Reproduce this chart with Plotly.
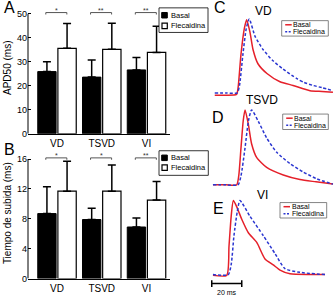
import plotly.graph_objects as go

W, H = 336, 300
FONT = "Liberation Sans, Arial, sans-serif"

# ---------------- data ----------------
categories = ["VD", "TSVD", "VI"]
series_names = ["Basal", "Flecaidina"]

apd50_basal = [25.9, 23.6, 26.6]
apd50_basal_sd = [4.1, 7.1, 5.2]
apd50_flec = [35.6, 35.2, 33.9]
apd50_flec_sd = [10.3, 10.8, 10.9]
apd50_sig = ["*", "**", "**"]

subida_basal = [8.7, 7.9, 6.9]
subida_basal_sd = [3.6, 1.5, 1.2]
subida_flec = [11.7, 11.7, 10.5]
subida_flec_sd = [4.0, 3.5, 2.5]
subida_sig = ["*", "*", "**"]

apd_ticks = [0, 10, 20, 30, 40, 50]
subida_ticks = [0, 4, 8, 12, 16]

# action potential traces (time in ms, normalised amplitude)
tC_basal = [0.5, 8, 15, 16, 18, 20.3, 21.8, 24, 26, 29.3, 35.3, 44, 52.7, 64, 72, 79.3]
vC_basal = [-0.01, -0.01, 0, 0.08, 0.54, 0.89, 1.0, 0.83, 0.6, 0.41, 0.28, 0.17, 0.12, 0.05, 0.04, 0.03]
tC_flec = [0.5, 8, 15.5, 17, 19.3, 21.5, 23.5, 27.3, 32.7, 39.3, 46, 55.3, 60, 66, 72, 79.3]
vC_flec = [0.02, 0.02, 0.02, 0.12, 0.54, 0.88, 1.01, 0.78, 0.6, 0.45, 0.34, 0.21, 0.16, 0.12, 0.09, 0.05]

tD_basal = [-0.7, 8, 15.1, 16.5, 18, 19.5, 20.7, 22.9, 25.1, 28.5, 35.1, 46.2, 57.3, 68, 79.3]
vD_basal = [0, 0, 0, 0.12, 0.49, 0.85, 0.99, 0.8, 0.54, 0.36, 0.23, 0.13, 0.07, 0.04, 0.01]
tD_flec = [-0.7, 8, 16, 18, 20.7, 23, 25.1, 29.5, 35.1, 41.8, 50.7, 59.5, 68.5, 79.3]
vD_flec = [0, 0, 0, 0.12, 0.49, 0.85, 0.99, 0.84, 0.62, 0.43, 0.28, 0.17, 0.08, 0.01]

tE_basal = [-0.7, 8.5, 10, 11.5, 12.9, 15.1, 18.5, 22.9, 28.5, 34, 39.5, 44, 50.7, 64, 74]
vE_basal = [0, 0, 0.39, 0.8, 1.0, 0.92, 0.75, 0.57, 0.44, 0.22, 0.14, 0.07, 0.02, 0.01, 0.01]
tE_flec = [-0.7, 9.5, 11.5, 13.3, 15.5, 17.3, 24, 32.9, 40.7, 47.3, 57.3, 74]
vE_flec = [0.01, 0.01, 0.15, 0.53, 0.85, 1.0, 0.79, 0.53, 0.29, 0.09, 0.04, 0.01]

scale_bar_ms = 20
scale_bar_start = -1.5

RED = "#e5202a"
BLUE = "#2a35d0"


def px(x):
    return x / W


def py(y):
    return 1 - y / H


fig = go.Figure()
xpos = list(range(len(categories)))
BW = 0.41


def add_bar_panel(xa, ya, basal, bsd, flec, fsd, sig, bracket_y, tick_dy):
    fig.add_trace(go.Bar(
        x=xpos, y=basal, width=BW, offset=-0.43, name=series_names[0],
        marker=dict(color="black", line=dict(color="black", width=1)),
        error_y=dict(type="data", symmetric=False, array=bsd, arrayminus=[0] * 3,
                     color="black", thickness=1.5, width=4),
        xaxis=xa, yaxis=ya, showlegend=False))
    fig.add_trace(go.Bar(
        x=xpos, y=flec, width=BW, offset=0.02, name=series_names[1],
        marker=dict(color="white", line=dict(color="black", width=1.2)),
        error_y=dict(type="data", symmetric=False, array=fsd, arrayminus=[0] * 3,
                     color="black", thickness=1.5, width=4),
        xaxis=xa, yaxis=ya, showlegend=False))
    for i, s in enumerate(sig):
        x0, x1 = i - 0.25, i + 0.22
        fig.add_trace(go.Scatter(
            x=[x0, x0, x1, x1], y=[bracket_y - tick_dy, bracket_y, bracket_y, bracket_y - tick_dy],
            mode="lines", line=dict(color="#555", width=1), xaxis=xa, yaxis=ya,
            showlegend=False, hoverinfo="skip"))
        fig.add_annotation(x=(x0 + x1) / 2, y=bracket_y, xref=xa, yref=ya, text=s,
                           showarrow=False, xanchor="center", yanchor="bottom", yshift=-3,
                           font=dict(size=7, color="#333", family=FONT))


add_bar_panel("x", "y", apd50_basal, apd50_basal_sd, apd50_flec, apd50_flec_sd,
              apd50_sig, 50.5, 0.8)
add_bar_panel("x2", "y2", subida_basal, subida_basal_sd, subida_flec, subida_flec_sd,
              subida_sig, 16.15, 0.25)

# traces
for xa, ya, tb, vb, tf, vf in [("x3", "y3", tC_basal, vC_basal, tC_flec, vC_flec),
                               ("x4", "y4", tD_basal, vD_basal, tD_flec, vD_flec),
                               ("x5", "y5", tE_basal, vE_basal, tE_flec, vE_flec)]:
    fig.add_trace(go.Scatter(x=tb, y=vb, mode="lines", name="Basal",
                             line=dict(color=RED, width=1.5, shape="spline", smoothing=0.6),
                             xaxis=xa, yaxis=ya, showlegend=False))
    fig.add_trace(go.Scatter(x=tf, y=vf, mode="lines", name="Flecaidina",
                             line=dict(color=BLUE, width=1.5, dash="3px,2px", shape="spline", smoothing=0.6),
                             xaxis=xa, yaxis=ya, showlegend=False))

# scale bar
sb_y = -0.11
fig.add_trace(go.Scatter(x=[scale_bar_start, scale_bar_start + scale_bar_ms], y=[sb_y, sb_y],
                         mode="lines", line=dict(color="black", width=1.5),
                         xaxis="x5", yaxis="y5", showlegend=False, hoverinfo="skip"))
for xe in [scale_bar_start, scale_bar_start + scale_bar_ms]:
    fig.add_trace(go.Scatter(x=[xe, xe], y=[sb_y - 0.045, sb_y + 0.045], mode="lines",
                             line=dict(color="black", width=1.5), xaxis="x5", yaxis="y5",
                             showlegend=False, hoverinfo="skip"))
fig.add_annotation(x=scale_bar_start + scale_bar_ms / 2, y=-0.225, xref="x5", yref="y5",
                   text="20 ms", showarrow=False, xanchor="center", yanchor="middle",
                   font=dict(size=7, color="black", family=FONT))

# axes
common_x = dict(showline=True, linecolor="black", linewidth=1, ticks="", showgrid=False,
                zeroline=False, tickvals=xpos, ticktext=categories,
                tickfont=dict(size=10, color="black", family=FONT), range=[-0.648, 2.525])
common_y = dict(showline=False, ticks="inside", ticklen=3, tickcolor="black", showgrid=False,
                zeroline=False, tickfont=dict(size=9, color="black", family=FONT))
hidden = dict(visible=False, showgrid=False, zeroline=False)

fig.update_layout(
    width=W, height=H, margin=dict(l=0, r=0, t=0, b=0),
    paper_bgcolor="white", plot_bgcolor="rgba(0,0,0,0)",
    barmode="overlay", showlegend=False,
    font=dict(family=FONT, color="black"),
    xaxis=dict(domain=[px(28), px(170)], anchor="y", **common_x),
    yaxis=dict(domain=[py(136), py(1.8)], anchor="x", range=[0, 55], tickvals=apd_ticks,
               title=dict(text="APD50 (ms)", font=dict(size=10, family=FONT), standoff=3), **common_y),
    xaxis2=dict(domain=[px(28), px(170)], anchor="y2", **common_x),
    yaxis2=dict(domain=[py(283.3), py(150.3)], anchor="x2", range=[0, 17.5], tickvals=subida_ticks,
                title=dict(text="Tiempo de subida (ms)", font=dict(size=10, family=FONT), standoff=3),
                **common_y),
    xaxis3=dict(domain=[px(210), 1], anchor="y3", range=[-2.667, 81.333], **hidden),
    yaxis3=dict(domain=[py(100), py(14)], anchor="x3", range=[-4 / 76, 82 / 76], **hidden),
    xaxis4=dict(domain=[px(210), 1], anchor="y4", range=[-2.667, 81.333], **hidden),
    yaxis4=dict(domain=[py(192), py(105)], anchor="x4", range=[-4 / 77, 83 / 77], **hidden),
    xaxis5=dict(domain=[px(210), 1], anchor="y5", range=[-2.667, 81.333], **hidden),
    yaxis5=dict(domain=[0, py(198)], anchor="x5", range=[-20 / 76, 82 / 76], **hidden),
)

# y axis lines (0 .. top tick only)
fig.add_shape(type="line", xref="x domain", yref="y", x0=0, x1=0, y0=0, y1=50,
              line=dict(color="black", width=1))
fig.add_shape(type="line", xref="x2 domain", yref="y2", x0=0, x1=0, y0=0, y1=16,
              line=dict(color="black", width=1))


def paper_text(text, x, y, size, xanchor="center"):
    fig.add_annotation(x=px(x), y=py(y), xref="paper", yref="paper", text=text, showarrow=False,
                       xanchor=xanchor, yanchor="middle", borderpad=0,
                       font=dict(size=size, color="black", family=FONT))


# panel letters
for letter, x, y in [("A", 9, 8), ("B", 9, 152), ("C", 220, 8), ("D", 218, 119), ("E", 218, 212)]:
    paper_text(letter, x, y, 16)

# panel titles
for title, x, y in [("VD", 263.5, 11), ("TSVD", 261.5, 102), ("VI", 262, 198)]:
    paper_text(title, x, y, 12)


# legends for bar panels
def bar_legend(x0, y0, x1, y1, sq1, sq2):
    fig.add_shape(type="rect", xref="paper", yref="paper", x0=px(x0), x1=px(x1), y0=py(y1), y1=py(y0),
                  line=dict(color="black", width=0.8), fillcolor="white", layer="above")
    fig.add_shape(type="rect", xref="paper", yref="paper", x0=px(161.7), x1=px(167.3),
                  y0=py(sq1 + 5.6), y1=py(sq1), line=dict(color="black", width=1), fillcolor="black",
                  layer="above")
    fig.add_shape(type="rect", xref="paper", yref="paper", x0=px(162), x1=px(167.3),
                  y0=py(sq2 + 5.6), y1=py(sq2), line=dict(color="black", width=1.2), fillcolor="white",
                  layer="above")
    for name, sq in zip(series_names, [sq1, sq2]):
        paper_text(name, 169.5, sq + 2.8, 7.5, xanchor="left")


bar_legend(159, 8, 208, 33, 12.7, 23.5)
bar_legend(159, 153.3, 208.3, 178.3, 157.7, 167.7)


# legends for trace panels
def line_legend(x0, y0, x1, y1):
    fig.add_shape(type="rect", xref="paper", yref="paper", x0=px(x0), x1=px(x1), y0=py(y1), y1=py(y0),
                  line=dict(color="#666", width=0.8), fillcolor="white", layer="above")
    ya = y0 + 4.2
    yb = y0 + 11.3
    fig.add_shape(type="line", xref="paper", yref="paper", x0=px(x0 + 3.5), x1=px(x0 + 10),
                  y0=py(ya), y1=py(ya), line=dict(color=RED, width=1.5), layer="above")
    fig.add_shape(type="line", xref="paper", yref="paper", x0=px(x0 + 3.5), x1=px(x0 + 10),
                  y0=py(yb), y1=py(yb), line=dict(color=BLUE, width=1.5, dash="2px,1.5px"), layer="above")
    for name, yy in zip(series_names, [ya, yb]):
        paper_text(name, x0 + 10.5, yy, 7, xanchor="left")


line_legend(281.7, 21, 328.3, 36.7)
line_legend(282.7, 116, 328.3, 131.7)
line_legend(280, 206, 326.7, 221.7)

fig.write_html("out.html", config={"displayModeBar": False},
               post_script="document.body.style.margin='0';document.body.style.overflow='hidden';")
